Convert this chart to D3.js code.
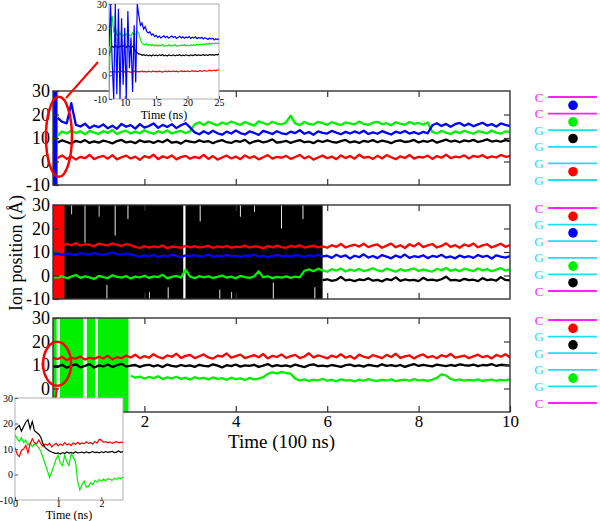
<!DOCTYPE html>
<html>
<head>
<meta charset="utf-8">
<script src="https://cdn.jsdelivr.net/npm/d3@7"></script>
<style>
body { margin: 0; background: #fff; }
text { font-family: "Liberation Serif", "DejaVu Serif", "Times New Roman", serif; }
</style>
</head>
<body>
<svg id="chart"></svg>
<script>
// ion positions (Å), main panels sampled every 0.1 (x 100 ns)

// panel 1 : t = 0.1 .. 10.0
var p1Blue = [18.6,16.9,16.2,24.8,15.6,14.9,16.1,14.2,15.3,14.6, 15.8,14.1,15.2,13.9,16.0,14.8,15.5,14.0,15.9,14.4,
  15.1,16.2,14.3,15.6,14.7,15.9,14.2,15.4,16.3,14.5, 12.4,11.6,12.9,11.8,13.1,12.0,11.4,12.7,11.9,13.2,
  12.1,11.5,12.8,12.2,11.3,13.0,12.4,11.7,12.9,12.0, 11.6,12.7,12.1,13.3,11.8,12.5,11.4,12.8,12.2,11.9,
  13.0,12.3,11.6,12.6,11.9,12.8,12.0,13.1,11.7,12.4, 11.8,12.9,12.2,11.5,12.7,12.1,13.0,11.9,12.5,11.7,
  12.6,12.0,15.4,16.3,15.1,16.0,14.8,15.9,16.4,15.2, 16.1,15.0,15.8,16.5,15.3,15.9,14.9,16.2,15.6,15.1]
var p1Green = [11.0,12.8,11.9,13.2,12.1,12.9,11.6,13.0,12.3,11.8, 12.9,12.2,13.4,11.7,12.6,13.1,11.9,12.7,12.0,13.3,
  12.4,11.8,12.9,12.2,13.2,11.9,12.6,13.0,12.1,12.8, 15.8,16.7,15.5,16.9,16.1,15.4,16.6,15.9,17.0,16.2,
  15.6,16.8,16.0,15.3,17.1,16.4,15.7,16.9,16.1,15.8, 16.6,19.5,16.2,15.5,16.8,16.0,15.7,16.9,16.3,15.6,
  16.7,16.1,15.5,16.6,16.2,15.8,17.0,16.0,15.6,16.5, 16.9,15.9,16.3,15.4,16.7,16.1,15.6,16.8,16.0,16.4,
  15.7,16.6,12.6,11.9,13.0,12.3,11.7,12.8,12.1,13.1, 12.4,11.8,12.9,12.5,12.0,13.2,12.3,11.9,12.8,12.6]
var p1Black = [8.1,9.0,8.3,7.6,8.8,8.2,9.1,7.9,8.6,8.0, 8.9,8.4,7.7,8.7,9.2,8.1,8.5,7.8,9.0,8.3,
  8.6,7.9,8.8,8.2,9.3,8.0,8.4,7.6,8.9,8.5, 8.1,9.0,8.3,8.7,7.8,8.6,9.1,8.2,7.9,8.8,
  8.4,9.2,7.7,8.5,8.9,8.1,8.6,9.4,8.0,8.3, 8.8,7.9,8.6,9.1,8.2,8.5,7.8,8.9,8.3,9.0,
  8.4,8.0,8.7,9.2,8.1,8.6,7.9,8.8,8.4,9.1, 8.2,8.9,8.5,7.8,8.7,9.0,8.3,8.6,9.2,8.1,
  8.8,8.4,9.1,8.0,8.7,9.3,8.5,8.9,8.2,9.0, 8.6,9.2,8.3,8.8,9.4,8.5,8.9,8.4,9.1,8.7]
var p1Red = [1.5,2.6,1.1,2.2,0.8,2.0,1.4,2.8,1.0,1.9, 2.4,1.2,2.7,0.9,1.8,2.5,1.3,2.1,0.7,2.3,
  1.6,2.9,1.0,2.2,1.5,2.6,0.9,1.9,2.4,1.2, 2.0,1.4,2.8,1.1,2.3,0.8,1.7,2.5,1.3,2.1,
  1.0,2.6,1.5,2.2,0.9,1.8,2.7,1.2,2.0,1.6, 2.4,1.1,1.9,2.8,1.3,2.2,0.8,1.7,2.5,1.4,
  2.1,1.0,2.6,1.5,2.3,1.2,2.9,1.6,2.0,1.1, 2.4,1.3,2.7,1.8,1.0,2.2,1.5,2.8,1.2,2.0,
  1.7,2.5,1.1,2.3,1.6,2.9,1.4,2.1,1.8,2.6, 1.3,2.4,1.9,2.7,1.5,2.2,1.7,2.8,2.0,2.3]

// panel 2 : red t = 0.1 .., blue/green t = 0 .., black t = 5.9 ..
var p2Red = [13.2,12.6,13.5,12.9,13.8,12.7,13.3,13.0,12.5,13.6, 13.1,12.8,13.7,13.0,12.6,13.4,12.9,12.2,11.7,12.5,
  11.9,12.4,12.0,12.8,11.6,12.3,12.1,11.8,12.6,12.0, 12.5,11.9,12.2,12.7,11.7,12.4,12.0,12.6,11.8,12.3,
  12.1,12.8,11.9,12.4,12.2,11.6,12.5,12.0,12.7,12.1, 11.8,12.6,12.2,12.9,11.9,12.3,12.7,12.0,12.4,11.8,
  12.9,12.2,13.4,11.9,12.6,13.1,12.3,13.5,12.1,12.8, 13.2,11.8,12.7,13.6,12.0,12.9,11.7,13.3,12.4,13.8,
  12.1,12.8,13.4,11.9,12.6,13.7,12.2,12.9,11.8,13.2, 12.5,13.6,12.0,12.8,13.3,11.9,12.7,13.5,12.2,13.0]
var p2Blue = [9.0, 9.2,8.8,9.4,9.0,8.7,9.5,9.1,8.9,9.6,9.0, 8.8,9.3,9.7,9.1,8.9,9.4,9.0,8.4,7.9,8.6,
  8.2,8.8,7.8,8.5,8.1,8.9,8.3,7.7,8.6,8.2, 8.7,8.0,8.4,8.9,7.9,8.5,8.2,8.8,8.1,8.4,
  7.8,8.6,8.3,8.9,8.0,8.5,7.7,8.4,8.8,8.2, 8.5,8.0,8.7,8.3,7.9,8.6,8.2,8.9,8.1,8.4,
  7.5,8.8,7.9,8.6,7.2,8.4,7.8,9.0,7.6,8.3, 7.4,8.7,8.0,7.3,8.5,7.7,8.9,7.5,8.2,7.8,
  8.6,7.4,8.3,7.9,8.8,7.6,8.1,7.3,8.5,7.7, 8.2,7.5,8.7,7.9,8.4,7.2,8.6,8.0,7.6,8.3]
var p2Green = [-0.8, -0.9,-0.3,-1.2,-0.5,0.2,-1.0,-0.4,-0.8,-1.5,-0.2, -0.7,-1.1,0.1,-0.6,-0.9,-0.3,-1.3,-0.5,-0.8,-0.1,
  -1.0,-0.4,-0.7,0.3,-1.2,-0.6,-0.2,-0.9,2.5,-0.5, -1.1,-0.3,-0.8,-0.4,-1.0,-0.6,0.0,-0.9,-0.5,-1.2,
  -0.2,-0.7,-1.0,-0.4,1.8,-0.8,-0.3,-1.1,-0.6,-0.9, -0.4,-1.0,-0.5,-0.8,2.0,2.6,1.8,2.9,2.2,1.6,
  2.7,2.1,3.0,1.7,2.5,2.0,2.8,1.9,2.4,3.1, 2.2,1.8,2.9,2.3,1.6,2.7,2.0,2.5,3.0,1.9,
  2.6,2.1,1.7,2.8,2.3,3.2,2.0,2.6,1.8,2.9, 2.4,1.9,3.0,2.2,2.7,1.8,2.5,3.1,2.1,2.6]
var p2Black = [-2.0,-1.6,-2.3,-1.9,-0.6,-2.1,-1.8,-2.4,-1.7,-2.0, -1.2,-2.2,-1.9,-2.5,-1.5,-2.0,-0.8,-2.3,-1.7,-2.1,
  -1.9,-2.4,-1.0,-2.0,-1.8,-2.2,-1.6,-0.5,-2.1,-1.9, -2.3,-1.4,-2.0,-1.8,-2.4,-1.1,-2.0,-1.7,-2.2,-0.7, -1.9,-2.1]

// panel 3 : red/black t = 0 .., green t = 1.7 ..
var p3Red = [13.0, 12.5,13.4,12.1,13.0,12.7,13.6,12.3,13.1,12.6,13.5, 12.8,13.9,12.4,13.3,12.9,14.0,13.2,14.4,12.9,13.8,
  13.1,14.6,13.4,12.8,14.1,13.5,14.8,13.0,13.9,14.3, 12.9,13.7,14.5,13.2,12.7,14.0,13.6,14.9,13.1,13.8,
  14.4,12.9,13.6,14.2,13.3,14.7,12.8,13.9,13.4,14.5, 13.0,13.8,14.3,12.9,13.6,15.0,13.2,14.1,13.5,12.8,
  14.0,13.3,14.6,13.1,13.8,12.7,14.4,13.5,13.0,14.2, 13.6,12.9,14.3,13.4,14.8,13.0,13.7,14.1,12.8,13.9,
  14.5,13.2,13.8,12.9,14.2,13.5,14.7,13.1,13.6,14.0, 12.9,13.7,14.4,13.3,13.9,12.8,14.3,13.5,14.6,13.2]
var p3Black = [9.4, 9.2,10.1,8.8,9.7,10.3,9.0,9.6,10.4,8.9,9.8, 9.4,10.2,9.1,9.9,10.5,9.3,9.7,10.0,9.2,9.8,
  10.1,9.4,9.9,9.1,10.2,9.6,9.3,10.0,9.5,9.8, 9.2,10.1,9.6,9.4,10.3,9.7,9.0,9.9,9.5,10.2,
  9.3,9.8,9.6,10.1,9.2,9.7,10.4,9.4,9.9,9.5, 9.8,9.3,10.2,9.6,9.1,9.9,10.3,9.5,9.7,9.4,
  10.0,9.6,9.2,9.9,10.2,9.5,9.8,9.3,10.1,9.7, 9.4,10.3,9.6,9.9,9.5,10.0,9.2,9.8,10.4,9.6,
  10.1,9.7,9.4,10.2,9.8,9.5,10.0,9.6,10.3,9.9, 9.7,10.2,9.5,10.0,9.8,10.4,9.6,10.1,9.9,9.7]
var p3Green = [5.4,4.6,5.1,4.2,4.9,4.4,5.2,4.0,4.7,4.3, 5.0,4.1,4.6,3.8,4.8,4.2,4.5,3.9,4.7,4.1,
  4.4,3.7,4.6,4.0,4.3,3.6,4.5,3.9,4.2,4.8, 6.2,6.9,6.4,7.0,6.6,6.3,
  4.2,3.4,3.9,3.2,3.8,3.5,4.1,3.3,3.7,3.1, 3.9,3.4,3.6,3.0,3.8,3.3,4.0,3.5,3.2,3.7,
  3.4,3.9,3.1,3.6,3.8,3.3,4.0,3.5,3.7,3.2, 3.8,4.5,6.0,5.6,
  4.1,3.5,3.9,3.3,3.7,3.4,3.9,3.2,3.6,3.8,3.3,3.7,3.5,3.9]

// erratic phases drawn as filled bands, [t0, t1] ; white gaps as [t0, t1, lo, hi]
var p2Gaps = [[0.14,0.16,22,30],[0.40,0.41,26,30],[0.69,0.71,14,30],[1.0,1.01,25,30],[1.17,1.19,-10,-4],
  [1.35,1.37,17,30],[1.63,1.65,24,30],[2.1,2.11,-10,-7],[2.51,2.53,-10,-5],[2.85,2.9,-10,30],[3.21,3.23,23,30],
  [3.64,3.66,-10,-6],[3.9,3.91,-10,-7],[4.09,4.11,25,30],[4.4,4.41,27,30],[4.81,4.83,-10,-3],[4.99,5.01,20,30],
  [5.46,5.48,24,30],[5.72,5.74,-10,-5]]
var p3Gaps = [[0.08,0.15,-10,30],[0.66,0.74,-10,30],[0.92,0.98,-10,30]]

// inset 1 (ns), t = 7.5 .. 25 every 0.25
var in1Blue = [12,30,6,-10,30,-8,28,-10,24,-4, 20,-10,27,3,16,-7,21,-3,30,25, 21,22,19.5,20.5,18.5,17.8,18.3,16.9,17.4,16.3,
  16.8,15.9,16.5,15.7,16.2,16.6,15.8,16.4,15.6,16.1, 16.5,15.9,16.3,15.5,16.0,16.4,15.7,16.2,15.6,16.1,
  15.8,16.3,15.5,16.0,15.7,16.2,15.4,15.9,15.6,16.0, 15.3,15.8,15.5,15.1,15.7,15.2,15.6,14.9,15.4,15.0, 15.3]
var in1Green = [-10,22,25,18,20,17,16.5,18,16,17, 16.5,17.5,16,17,16.5,18,16.8,17.3,18.5,17.5,
  15,13.5,13,12.8,13.3,12.5,13,12.4,12.9,12.3, 12.8,12.2,12.7,12.4,12.9,12.1,12.6,12.3,12.8,12.2,
  12.7,12.4,12.9,12.2,12.6,12.3,12.8,12.5,12.9,12.3, 12.7,12.4,12.8,12.5,12.9,12.6,13.0,12.7,13.1,12.8,
  13.2,12.9,13.3,13.0,13.4,13.1,13.5,13.2,13.6,13.3, 13.5]
var in1Black = [8,11.5,12.2,11.8,12.5,12.0,11.6,12.3,11.9,12.4, 12.1,11.7,12.5,12.0,11.8,12.2,11.0,10.2,9.5,9.0,
  8.8,8.4,8.7,8.3,8.6,8.2,8.5,8.1,8.6,8.3, 8.5,8.2,8.6,8.3,8.7,8.2,8.5,8.1,8.6,8.4,
  8.3,8.6,8.2,8.5,8.4,8.7,8.2,8.5,8.3,8.6, 8.4,8.2,8.6,8.3,8.5,8.7,8.3,8.6,8.4,8.5,
  8.7,8.4,8.6,8.3,8.8,8.5,8.7,8.4,8.8,8.6, 8.9]
var in1Red = [1.2,1.5,1.3,1.6,1.4,1.2,1.5,1.3,1.7,1.4, 1.5,1.3,1.6,1.4,1.2,1.5,1.7,1.3,1.6,1.4,
  1.5,1.8,1.4,1.6,1.3,1.7,1.5,1.4,1.8,1.5, 1.6,1.4,1.7,1.5,1.3,1.6,1.8,1.4,1.7,1.5,
  1.6,1.8,1.5,1.7,1.4,1.6,1.9,1.5,1.7,1.6, 1.8,1.5,1.7,1.9,1.6,1.8,1.5,1.7,2.0,1.6,
  1.8,2.0,1.7,1.9,2.1,1.8,2.0,2.2,1.9,2.3, 2.1]

// inset 2 (ns), t = 0 .. 2.5 every 0.05
var in2Black = [17.5,18.5,19.2,17.0,18.8,20.5,21.5,18.0,20.8,17.2, 16.5,15.8,14.5,12.0,10.5,9.8,9.2,8.8,8.5,8.2,
  8.5,8.0,8.6,8.2,8.8,8.4,8.7,8.3,8.9,8.5, 8.6,8.8,8.4,8.9,8.5,8.7,9.0,8.6,8.8,8.5,
  8.9,8.6,9.0,8.7,8.9,9.1,8.6,8.8,9.2,8.7, 9.0]
var in2Red = [10.5,8.0,7.0,9.5,10.0,11.5,8.5,12.0,14.0,12.5, 12.0,13.5,12.0,11.0,12.0,11.5,12.3,10.8,11.7,12.2,
  11.2,12.0,11.4,12.5,11.6,12.1,11.3,12.4,11.8,12.6, 11.9,12.4,12.0,12.8,12.2,12.5,12.0,12.9,12.3,13.8,
  13.5,12.6,12.9,12.4,12.8,12.2,12.6,12.9,12.4,12.7, 12.5]
var in2Green = [15.6,14.0,13.0,14.5,12.5,13.5,11.5,12.5,11.0,12.0, 11.5,10.5,9.0,6.5,4.0,1.5,-1.2,1.0,3.5,6.0,
  7.5,4.5,3.5,7.5,5.0,3.5,8.2,6.8,5.0,-2.6, -6.0,-4.0,-2.6,-5.0,-4.6,-3.2,-4.0,-2.3,-3.0,-2.0,
  -2.6,-1.8,-2.4,-1.6,-1.9,-2.3,-1.5,-2.0,-1.3,-1.7, -1.0]

var yTicks = [30, 20, 10, 0, -10]
var xTicks = [0, 2, 4, 6, 8, 10]

// strand diagrams at right
var strands = [
  { bases: ["C","C","G","G","G","G"], ions: [["blue",0],["green",1],["black",2],["red",4]] },
  { bases: ["C","G","G","G","G","C"], ions: [["red",0],["blue",1],["green",3],["black",4]] },
  { bases: ["C","G","G","G","G","C"], ions: [["red",0],["black",1],["green",3]] }
]

var RED = "#ff0000", GREEN = "#00f000", BLUE = "#0000ff", BLACK = "#000000"
var colorOf = { red: RED, green: GREEN, blue: BLUE, black: BLACK }
var frameColor = "#333"
var serif = '"Liberation Serif", "DejaVu Serif", "Times New Roman", serif'

function series(t0, dt, vals) {
    return vals.map(function(v, i) { return { t: t0 + i * dt, v: v } })
}

var svg = d3.select("#chart").attr("width", 600).attr("height", 521)
    .attr("font-family", serif)

var x = d3.scaleLinear().domain([0, 10]).range([53, 510])
var panelTops = [91, 205, 318], panelH = 94

var panels = [
    { bands: [{ c: BLUE, t0: 0, t1: 0.1 }], gaps: [],
      lines: [{ c: RED, d: series(0.1, 0.1, p1Red) }, { c: BLACK, d: series(0.1, 0.1, p1Black) },
              { c: GREEN, d: series(0.1, 0.1, p1Green) }, { c: BLUE, d: series(0.1, 0.1, p1Blue) }] },
    { bands: [{ c: BLACK, t0: 0, t1: 5.9 }], gaps: p2Gaps, after: [{ c: RED, t0: 0, t1: 0.25 }],
      lines: [{ c: BLACK, d: series(5.9, 0.1, p2Black) }, { c: GREEN, d: series(0, 0.1, p2Green) },
              { c: BLUE, d: series(0, 0.1, p2Blue) }, { c: RED, d: series(0.1, 0.1, p2Red) }] },
    { bands: [{ c: GREEN, t0: 0, t1: 1.65 }], gaps: p3Gaps,
      lines: [{ c: GREEN, d: series(1.7, 0.1, p3Green) }, { c: BLACK, d: series(0, 0.1, p3Black) },
              { c: RED, d: series(0, 0.1, p3Red) }] }
]

var yScales = []

panels.forEach(function(p, i) {
    var top = panelTops[i]
    var y = d3.scaleLinear().domain([-10, 30]).range([top + panelH, top])
    yScales.push(y)
    var g = svg.append("g")

    g.append("clipPath").attr("id", "clip" + i)
        .append("rect").attr("x", x(0)).attr("y", top).attr("width", x(10) - x(0)).attr("height", panelH)

    var inner = g.append("g").attr("clip-path", "url(#clip" + i + ")")

    function band(b) {
        inner.append("rect")
            .attr("x", x(b.t0)).attr("width", x(b.t1) - x(b.t0))
            .attr("y", y(30)).attr("height", y(-10) - y(30))
            .attr("fill", b.c)
    }
    p.bands.forEach(band)

    inner.selectAll("rect.gap").data(p.gaps).enter().append("rect")
        .attr("class", "gap")
        .attr("x", function(d) { return x(d[0]) })
        .attr("width", function(d) { return Math.max(0.8, x(d[1]) - x(d[0])) })
        .attr("y", function(d) { return y(d[3]) })
        .attr("height", function(d) { return y(d[2]) - y(d[3]) })
        .attr("fill", "#fff")

    if (p.after) p.after.forEach(band)

    var line = d3.line().x(function(d) { return x(d.t) }).y(function(d) { return y(d.v) })
    p.lines.forEach(function(l) {
        inner.append("path").datum(l.d)
            .attr("d", line)
            .attr("fill", "none")
            .attr("stroke", l.c)
            .attr("stroke-width", 2.3)
            .attr("stroke-linejoin", "round")
    })

    // axes, ticks pointing inward
    var left = g.append("g").attr("transform", "translate(" + x(0) + ",0)")
        .call(d3.axisLeft(y).tickValues(yTicks).tickSize(-6).tickPadding(3).tickFormat(function(d) { return String(d) }))
    var right = g.append("g").attr("transform", "translate(" + x(10) + ",0)")
        .call(d3.axisRight(y).tickValues([20, 10, 0]).tickSize(-6).tickFormat(""))
    var topAx = g.append("g").attr("transform", "translate(0," + top + ")")
        .call(d3.axisTop(x).tickValues([2, 4, 6, 8]).tickSize(-6).tickFormat(""))
    var bottom = g.append("g").attr("transform", "translate(0," + (top + panelH) + ")")
        .call(d3.axisBottom(x).tickValues(i === 2 ? xTicks : [2, 4, 6, 8]).tickSize(-6).tickPadding(3)
            .tickFormat(i === 2 ? function(d) { return String(d) } : ""))

    ;[left, right, topAx, bottom].forEach(function(a) {
        a.select(".domain").remove()
        a.selectAll("line").attr("stroke", frameColor).attr("stroke-width", 1.2)
        a.selectAll("text").attr("font-size", 18).attr("fill", "#000").attr("font-family", serif)
    })
    bottom.selectAll("text").attr("font-size", 17)

    g.append("rect")
        .attr("x", x(0)).attr("y", top).attr("width", x(10) - x(0)).attr("height", panelH)
        .attr("fill", "none").attr("stroke", frameColor).attr("stroke-width", 1.4)
})

// axis titles
svg.append("text")
    .attr("transform", "translate(16,253) rotate(-90)")
    .attr("text-anchor", "middle").attr("dominant-baseline", "central")
    .attr("font-size", 18)
    .text("Ion position (Å)")

svg.append("text")
    .attr("x", (x(0) + x(10)) / 2).attr("y", 448)
    .attr("text-anchor", "middle")
    .attr("font-size", 19)
    .text("Time (100 ns)")

// strand diagrams
var strandTops = [97, 208, 320], strandGap = 16.6
strands.forEach(function(s, i) {
    var g = svg.append("g")
    s.bases.forEach(function(b, j) {
        var yy = strandTops[i] + j * strandGap
        var c = b === "C" ? "#ff22ff" : "#22dcf0"
        g.append("line").attr("x1", 548).attr("x2", 597).attr("y1", yy).attr("y2", yy)
            .attr("stroke", c).attr("stroke-width", 1.8)
        g.append("text").attr("x", 539).attr("y", yy).attr("text-anchor", "middle")
            .attr("dominant-baseline", "central").attr("font-size", 13).attr("fill", c).text(b)
    })
    s.ions.forEach(function(ion) {
        g.append("circle")
            .attr("cx", 573).attr("cy", strandTops[i] + (ion[1] + 0.5) * strandGap)
            .attr("r", 4.8).attr("fill", colorOf[ion[0]])
    })
})

// zoom markers
var ann = svg.append("g").attr("fill", "none").attr("stroke", RED)
ann.append("ellipse").attr("cx", x(0.13)).attr("cy", yScales[0](10.5)).attr("rx", 13).attr("ry", 40)
    .attr("stroke-width", 2.5)
ann.append("line").attr("x1", 66).attr("y1", 98).attr("x2", 98).attr("y2", 62).attr("stroke-width", 2)
ann.append("ellipse").attr("cx", x(0.09)).attr("cy", yScales[2](10.5)).attr("rx", 14).attr("ry", 22)
    .attr("stroke-width", 2.5)
ann.append("line").attr("x1", 57).attr("y1", 388).attr("x2", 54).attr("y2", 410).attr("stroke-width", 2)

// insets
function inset(cfg) {
    var g = svg.append("g")
    var ix = d3.scaleLinear().domain(cfg.xDomain).range([cfg.x0, cfg.x1])
    var iy = d3.scaleLinear().domain([-10, 30]).range([cfg.y1, cfg.y0])
    g.append("rect").attr("x", cfg.x0).attr("y", cfg.y0)
        .attr("width", cfg.x1 - cfg.x0).attr("height", cfg.y1 - cfg.y0)
        .attr("fill", "#fff").attr("stroke", "#b0b0b0").attr("stroke-width", 1)
    g.append("clipPath").attr("id", cfg.id)
        .append("rect").attr("x", cfg.x0).attr("y", cfg.y0)
        .attr("width", cfg.x1 - cfg.x0).attr("height", cfg.y1 - cfg.y0)
    var inner = g.append("g").attr("clip-path", "url(#" + cfg.id + ")")
    var line = d3.line().x(function(d) { return ix(d.t) }).y(function(d) { return iy(d.v) })
    cfg.lines.forEach(function(l) {
        inner.append("path").datum(l.d).attr("d", line)
            .attr("fill", "none").attr("stroke", l.c).attr("stroke-width", 1.2)
    })
    var la = g.append("g").attr("transform", "translate(" + cfg.x0 + ",0)")
        .call(d3.axisLeft(iy).tickValues(yTicks).tickSize(-3).tickPadding(2).tickFormat(function(d) { return String(d) }))
    var ba = g.append("g").attr("transform", "translate(0," + cfg.y1 + ")")
        .call(d3.axisBottom(ix).tickValues(cfg.xTicks).tickSize(-3).tickPadding(0).tickFormat(function(d) { return String(d) }))
    ;[la, ba].forEach(function(a) {
        a.select(".domain").remove()
        a.selectAll("line").attr("stroke", "#555")
        a.selectAll("text").attr("font-size", 10).attr("fill", "#000").attr("font-family", serif)
    })
    g.append("text").attr("x", (cfg.x0 + cfg.x1) / 2).attr("y", cfg.labelY)
        .attr("text-anchor", "middle").attr("font-size", 12).text("Time (ns)")
}

inset({ id: "in1", x0: 109, x1: 219, y0: 4, y1: 99, xDomain: [7.5, 25], xTicks: [10, 15, 20, 25], labelY: 119,
    lines: [{ c: RED, d: series(7.5, 0.25, in1Red) }, { c: BLACK, d: series(7.5, 0.25, in1Black) },
            { c: GREEN, d: series(7.5, 0.25, in1Green) }, { c: BLUE, d: series(7.5, 0.25, in1Blue) }] })

inset({ id: "in2", x0: 15, x1: 123, y0: 398, y1: 500, xDomain: [0, 2.5], xTicks: [0, 1, 2], labelY: 519,
    lines: [{ c: GREEN, d: series(0, 0.05, in2Green) }, { c: RED, d: series(0, 0.05, in2Red) },
            { c: BLACK, d: series(0, 0.05, in2Black) }] })
</script>
</body>
</html>
